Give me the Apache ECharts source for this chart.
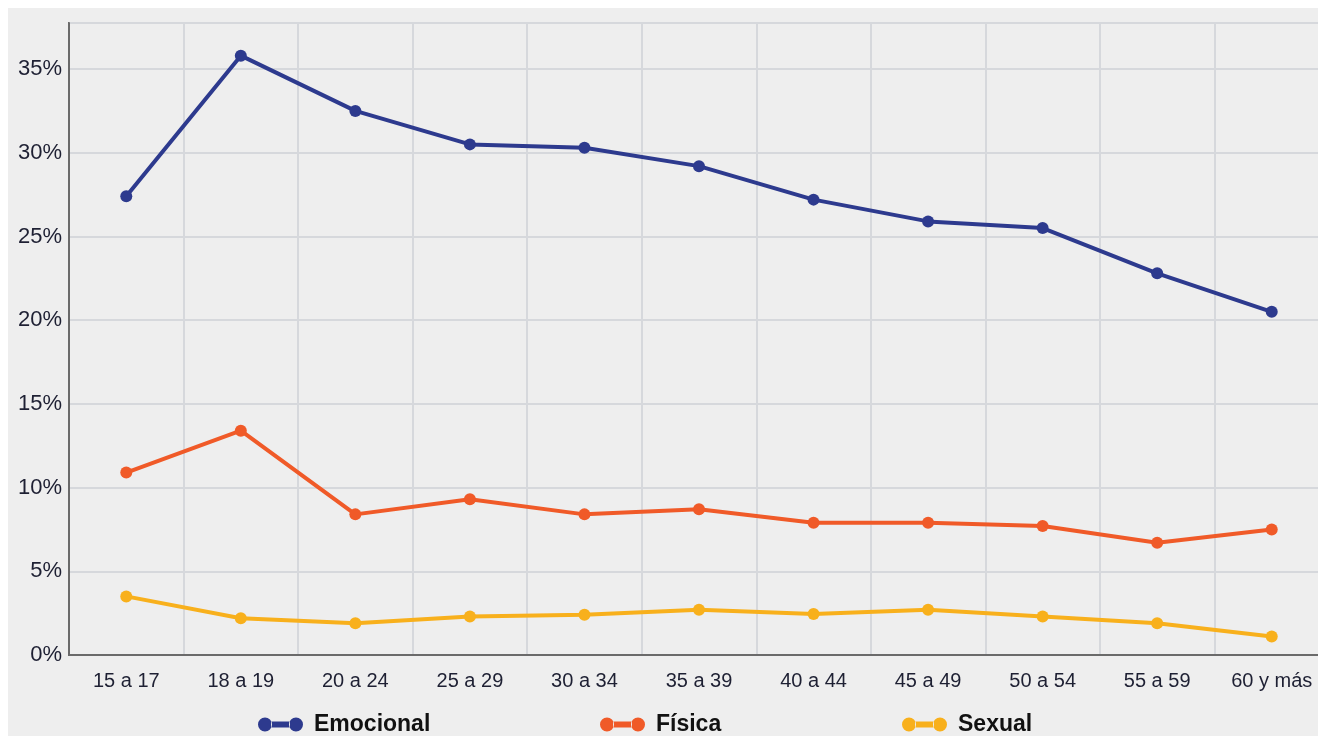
<!DOCTYPE html>
<html><head><meta charset="utf-8">
<script src="https://cdn.jsdelivr.net/npm/echarts@6/dist/echarts.min.js"></script>
<style>
html,body{margin:0;padding:0;background:#ffffff;width:1318px;height:736px;overflow:hidden;position:relative;}
#c{position:absolute;left:8px;top:8px;width:1321px;height:728px;}
</style></head>
<body><div id="c"></div>
<script>
const categories = ['15 a 17','18 a 19','20 a 24','25 a 29','30 a 34','35 a 39','40 a 44','45 a 49','50 a 54','55 a 59','60 y más'];
const emocional = [27.4, 35.8, 32.5, 30.5, 30.3, 29.2, 27.2, 25.9, 25.5, 22.8, 20.5];
const fisica = [10.9, 13.4, 8.4, 9.3, 8.4, 8.7, 7.9, 7.9, 7.7, 6.7, 7.5];
const sexual = [3.5, 2.2, 1.9, 2.3, 2.4, 2.7, 2.45, 2.7, 2.3, 1.9, 1.1];
const seriesNames = ['Emocional','Física','Sexual'];
const colors = ['#2d3a8e','#f05a28','#f8b01c'];

const icon = 'path://M0,7a7,7 0 1,0 14,0a7,7 0 1,0 -14,0Z M31,7a7,7 0 1,0 14,0a7,7 0 1,0 -14,0Z M13,4L32,4L32,10L13,10Z';
const font = '"Liberation Sans", Arial, sans-serif';
const legendLefts = [245, 587, 889];

const chart = echarts.init(document.getElementById('c'), null, {renderer:'canvas'});
const dataSets = [emocional, fisica, sexual];
chart.setOption({
  backgroundColor: '#eeeeee',
  animation: false,
  grid: {left: 61, top: 15, right: 0, bottom: 81, show: true, borderColor: '#6a6a6a', borderWidth: 2, backgroundColor: 'transparent'},
  legend: seriesNames.map((n, i) => ({
    data: [n], left: legendLefts[i], top: 700, icon: icon, itemWidth: 45, itemHeight: 14,
    selectedMode: false,
    textStyle: {fontFamily: font, fontWeight: 'bold', fontSize: 23, color: '#111', padding: [0,0,0,6]}
  })),
  xAxis: {
    type: 'category', data: categories, boundaryGap: true,
    axisLine: {show: true, lineStyle: {color: '#6a6a6a', width: 2}},
    axisTick: {show: false},
    axisLabel: {margin: 16, fontFamily: font, fontSize: 20, color: '#1e2033', interval: 0},
    splitLine: {show: true, lineStyle: {color: '#d6d8dc', width: 2}}
  },
  yAxis: {
    type: 'value', min: 0, max: 37.75, interval: 5,
    axisLine: {show: true, lineStyle: {color: '#6a6a6a', width: 2}},
    axisTick: {show: false},
    axisLabel: {margin: 7, fontFamily: font, fontSize: 22, color: '#1e2033', formatter: '{value}%',
      showMaxLabel: false},
    splitLine: {show: true, lineStyle: {color: '#d6d8dc', width: 2}}
  },
  series: seriesNames.map((n, i) => ({
    name: n, type: 'line', data: dataSets[i], color: colors[i],
    symbol: 'circle', symbolSize: 12, showSymbol: true,
    lineStyle: {width: 4, color: colors[i]}, itemStyle: {color: colors[i]}
  }))
});
</script></body></html>
